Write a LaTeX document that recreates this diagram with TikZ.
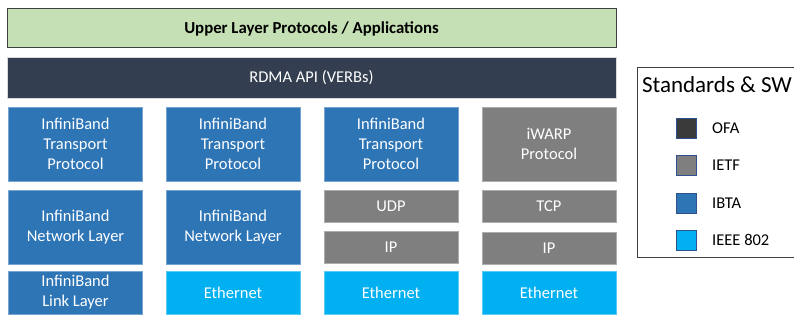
\documentclass[tikz,border=0pt]{standalone}
\usepackage{fontspec}
\setmainfont{Carlito}
\definecolor{ulpgreen}{HTML}{C5E0B4}
\definecolor{apinavy}{HTML}{333F50}
\definecolor{ofa}{HTML}{3A3A3A}
\definecolor{ietf}{HTML}{7F7F7F}
\definecolor{ibta}{HTML}{2E75B6}
\definecolor{ieee}{HTML}{00B0F0}
\definecolor{keyedge}{HTML}{2F528F}
\begin{document}
\begin{tikzpicture}[x=1pt,y=-1pt,font=\fontsize{16.5}{20}\selectfont]
    \tikzstyle{layer}=[rectangle, minimum width=134pt, inner sep=2pt, align=center, text=white, line width=0.8pt]
    \tikzstyle{ib layer}=[layer, fill=ibta, draw=ibta!65!white]
    \tikzstyle{ietf layer}=[layer, fill=ietf, draw=ietf!65!white]
    \tikzstyle{eth layer}=[layer, fill=ieee, draw=ieee!65!white]
    \tikzstyle{key}=[rectangle, minimum size=20pt, inner sep=0pt, draw=keyedge, line width=0.7pt]
    \tikzstyle{key label}=[anchor=west, inner sep=0pt]
    \useasboundingbox (0,0) rectangle (794,323);
    % Draw the upper layers
    \node[rectangle, fill=ulpgreen, draw=black!75, line width=1pt, minimum width=609pt, minimum height=39pt,
          font=\fontsize{16.8}{20}\selectfont\bfseries] (ulp) at (311.5,28.5) {Upper Layer Protocols / Applications};
    \node[rectangle, fill=apinavy, draw=black!15, line width=0.8pt, minimum width=609pt, minimum height=41pt,
          text=white] (api) at (311.5,77.5) {RDMA API (VERBs)};
    % Draw the transport layer
    \foreach \x / \c in {75.5/1, 233/2, 391/3}
        \node[ib layer, minimum height=74pt] (T-\c) at (\x,144) {InfiniBand\\Transport\\Protocol};
    \node[ietf layer, minimum height=74pt] (T-4) at (549,144) {iWARP\\Protocol};
    % Draw the network layer
    \foreach \x / \c in {75.5/1, 233/2}
        \node[ib layer, minimum height=74pt] (N-\c) at (\x,227) {InfiniBand\\Network Layer};
    \node[ietf layer, minimum height=32pt] (N-3) at (391,206) {UDP};
    \node[ietf layer, minimum height=32pt] (N-4) at (549,206) {TCP};
    \node[ietf layer, minimum height=32pt] (IP-3) at (391,247) {IP};
    \node[ietf layer, minimum height=32pt] (IP-4) at (549,248) {IP};
    % Draw the link layer
    \node[ib layer, minimum height=43pt] (L-1) at (75.5,292.5) {InfiniBand\\Link Layer};
    \foreach \x / \c in {233/2, 391/3, 549/4}
        \node[eth layer, minimum height=43pt] (L-\c) at (\x,292.5) {Ethernet};
    % Legend
    \draw[black!75, line width=0.8pt] (637,67) rectangle (800,257);
    \node[font=\fontsize{23}{26}\selectfont] (legend) at (717,85) {Standards \& SW};
    \foreach \name / \col / \y in {OFA/ofa/128, IETF/ietf/165, IBTA/ibta/203, IEEE 802/ieee/240}
    {
        \node[key, fill=\col] (K-\col) at (686,\y) {};
        \node[key label] at (712,\y) {\name};
    }
\end{tikzpicture}
\end{document}
